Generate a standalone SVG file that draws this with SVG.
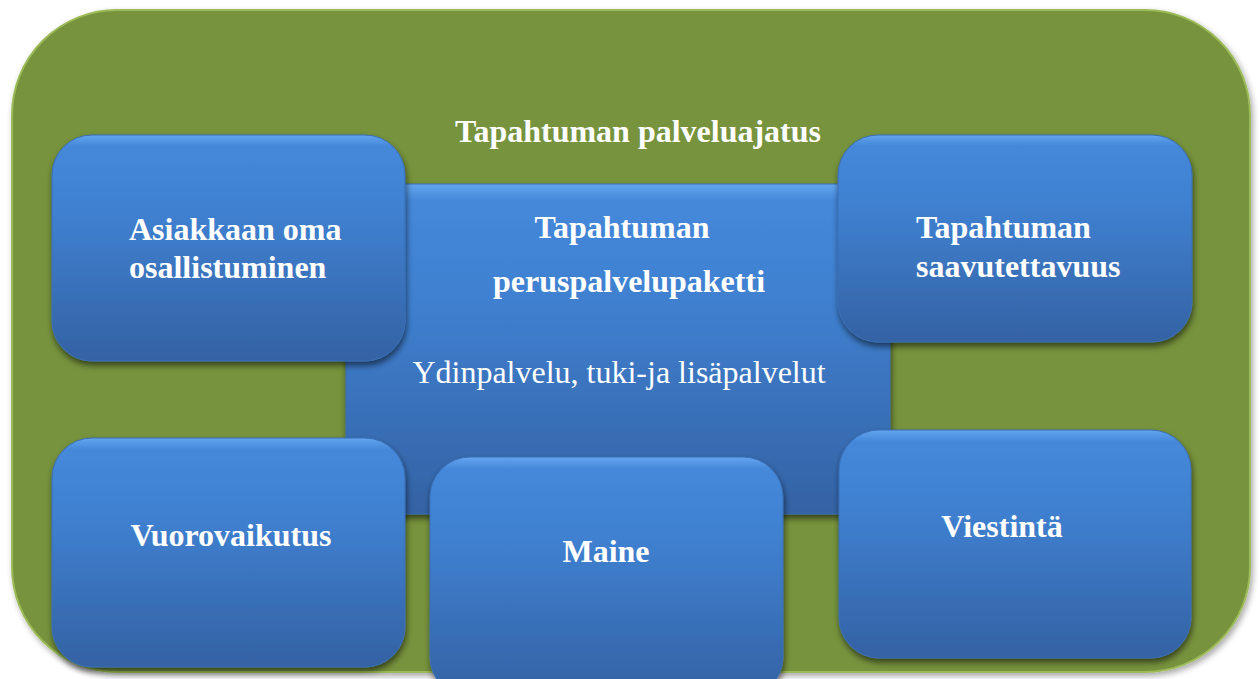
<svg xmlns="http://www.w3.org/2000/svg" width="1259" height="679" viewBox="0 0 1259 679">
<defs>
<linearGradient id="blue" x1="0" y1="0" x2="0" y2="1">
<stop offset="0" stop-color="#63A5EE"/>
<stop offset="0.05" stop-color="#4588DA"/>
<stop offset="0.35" stop-color="#3F80D0"/>
<stop offset="1" stop-color="#3462A4"/>
</linearGradient>
<filter id="sh" x="-10%" y="-10%" width="125%" height="130%">
<feGaussianBlur in="SourceAlpha" stdDeviation="3"/>
<feOffset dx="1" dy="4" result="b"/>
<feComponentTransfer><feFuncA type="linear" slope="0.55"/></feComponentTransfer>
<feMerge><feMergeNode/><feMergeNode in="SourceGraphic"/></feMerge>
</filter>
<filter id="osh" x="-5%" y="-5%" width="110%" height="112%">
<feGaussianBlur in="SourceAlpha" stdDeviation="3"/>
<feOffset dx="2" dy="3"/>
<feComponentTransfer><feFuncA type="linear" slope="0.35"/></feComponentTransfer>
<feMerge><feMergeNode/><feMergeNode in="SourceGraphic"/></feMerge>
</filter>
</defs>
<style>
.box{fill:url(#blue);stroke:#3A6FB5;stroke-width:1;filter:url(#sh)}
.t{font-family:"Liberation Serif","Times New Roman",serif;font-size:32px;fill:#FFFFFF}
.b{font-weight:bold}
</style>
<g id="outer">
<rect x="12" y="10" width="1238" height="662" rx="105" ry="105" fill="#77933C" stroke="#9CBB58" stroke-width="2" filter="url(#osh)"/>
<text class="t b" x="638" y="142" text-anchor="middle">Tapahtuman palveluajatus</text>
</g>
<g id="connectors"></g>
<g id="core">
<rect class="box" x="346" y="184" width="544" height="330" rx="3" ry="3"/>
<text class="t b" x="622" y="238" text-anchor="middle">Tapahtuman</text>
<text class="t b" x="629" y="292" text-anchor="middle">peruspalvelupaketti</text>
<text class="t" x="619" y="383" text-anchor="middle">Ydinpalvelu, tuki-ja lisäpalvelut</text>
</g>
<g id="asiakas">
<rect class="box" x="52" y="135" width="353" height="226" rx="40" ry="40"/>
<text class="t b" x="129" y="240">Asiakkaan oma</text>
<text class="t b" x="129" y="278">osallistuminen</text>
</g>
<g id="saavutettavuus">
<rect class="box" x="838" y="135" width="354" height="207" rx="40" ry="40"/>
<text class="t b" x="916" y="238">Tapahtuman</text>
<text class="t b" x="916" y="277">saavutettavuus</text>
</g>
<g id="vuorovaikutus">
<rect class="box" x="52" y="438" width="353" height="229" rx="40" ry="40"/>
<text class="t b" x="231" y="546" text-anchor="middle">Vuorovaikutus</text>
</g>
<g id="maine">
<rect class="box" x="430" y="457" width="353" height="240" rx="40" ry="40"/>
<text class="t b" x="606" y="562" text-anchor="middle">Maine</text>
</g>
<g id="viestinta">
<rect class="box" x="839" y="430" width="352" height="228" rx="40" ry="40"/>
<text class="t b" x="1002" y="537" text-anchor="middle">Viestintä</text>
</g>
</svg>
